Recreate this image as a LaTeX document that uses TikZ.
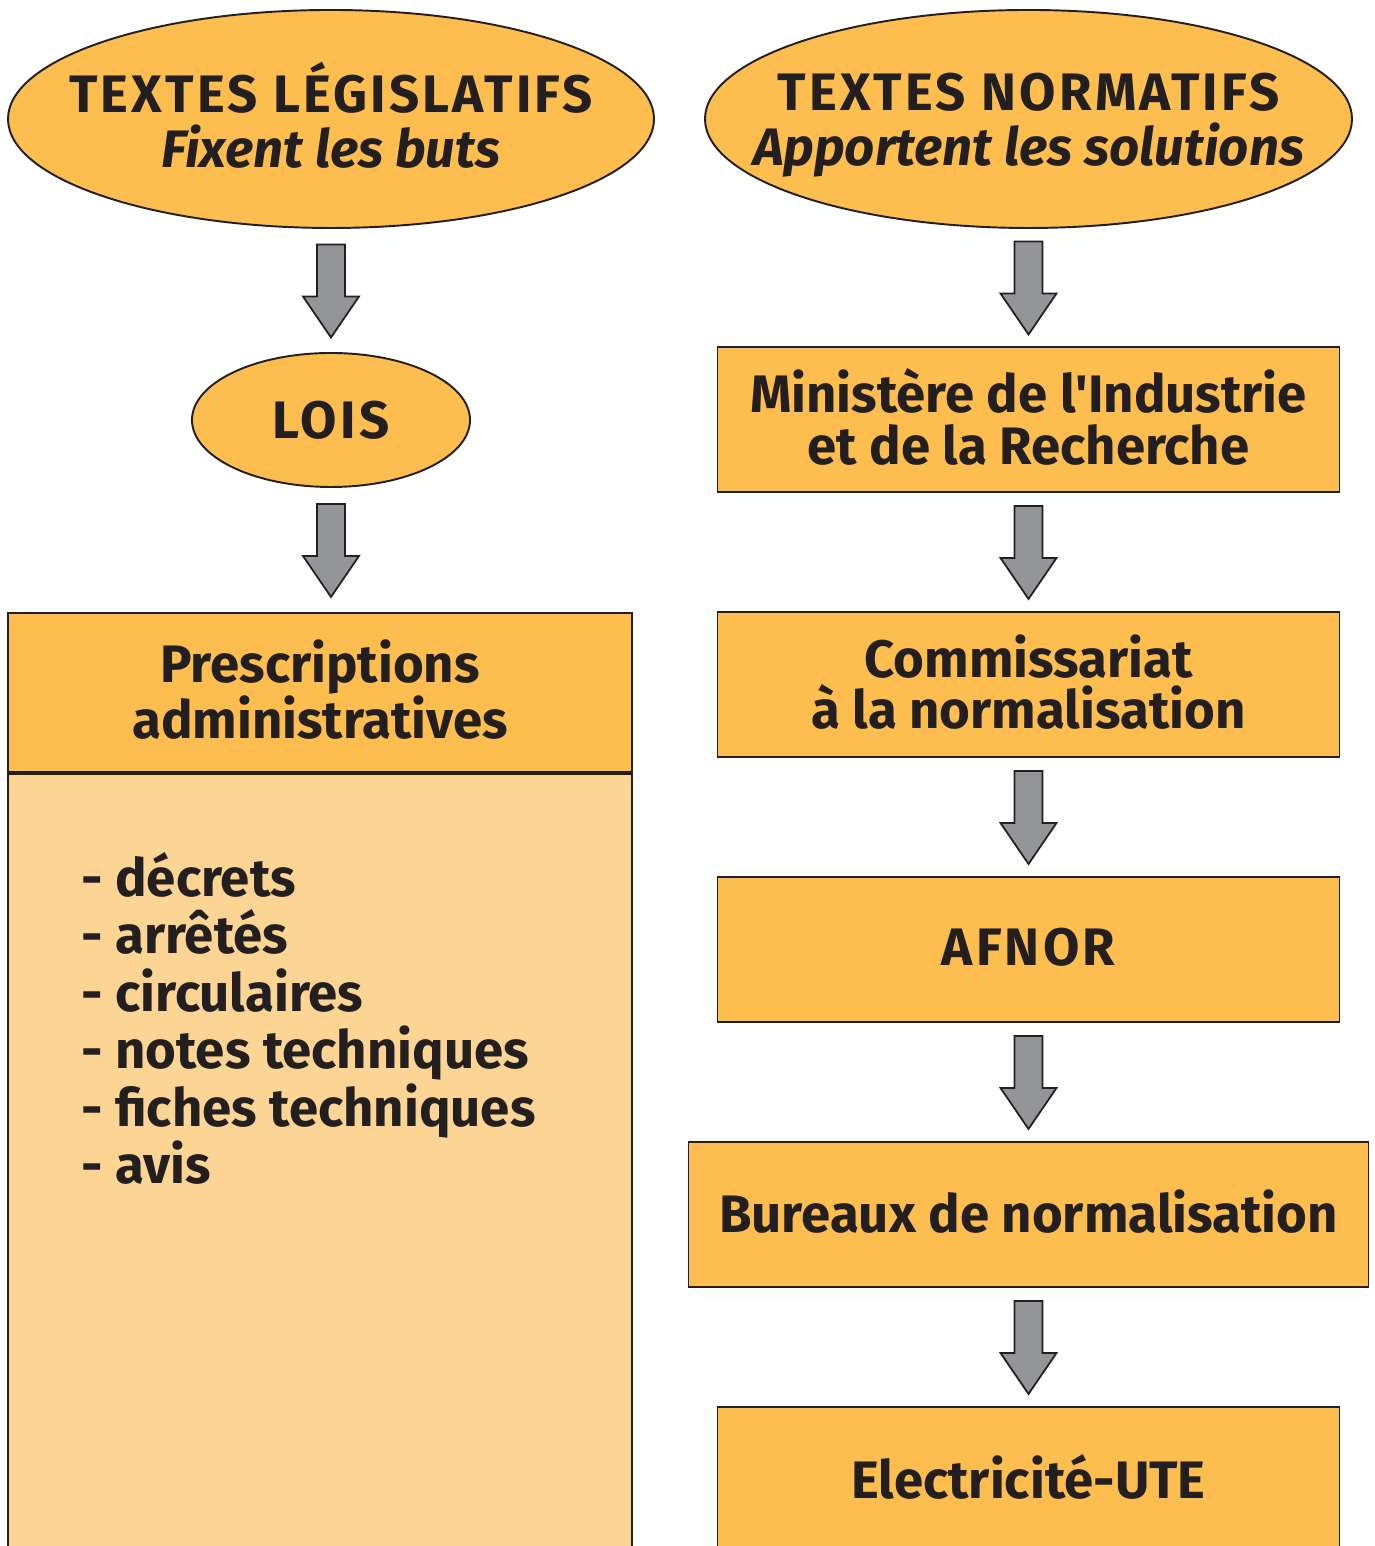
\documentclass[tikz,border=0pt]{standalone}
\usepackage{fontspec}
\setmainfont{Fira Sans}
\newfontfamily\capitales{Fira Sans}[LetterSpace=6]
\usetikzlibrary{shapes,calc}
\definecolor{orangefort}{HTML}{FDBE4F}
\definecolor{orangeclair}{HTML}{FCD594}
\definecolor{grisfleche}{HTML}{939598}
\definecolor{encre}{HTML}{231F20}
\tikzset{
    %Define style for ellipses
    ovale/.style={
           ellipse,
           draw=encre,
           fill=orangefort,
           line width=1.1pt,
           inner sep=0pt,
           text=encre,
           text depth=0pt,
           font=\fontsize{30}{31.5}\selectfont\bfseries,
           align=center},
    %Define style for boxes
    boite/.style={
           rectangle,
           draw=encre,
           fill=orangefort,
           line width=1.1pt,
           minimum width=12.44cm,
           minimum height=2.9cm,
           text=encre,
           text depth=0.12cm,
           font=\fontsize{30}{29.3}\selectfont\bfseries,
           align=center},
    % Define arrow style
    fleche/.style={
           draw=encre,
           fill=grisfleche,
           line width=1pt,
           line join=miter}
}

\begin{document}
\begin{tikzpicture}[node distance=5.3cm]
 \path [use as bounding box, clip] (0,0) rectangle (27.48,30.92);

 % Textes legislatifs
 \node [ovale, text depth=0.16cm, inner xsep=-2.5cm, minimum width=12.92cm,
   minimum height=4.36cm] (legis)
   at (6.62,28.54) {{\capitales TEXTES LÉGISLATIFS}\\\textit{Fixent les buts}};
 \node [ovale, below of=legis, node distance=6.02cm, minimum width=5.56cm,
   minimum height=2.68cm] (lois) {\capitales LOIS};
 \node [boite, below of=lois, node distance=5.45cm, xshift=-0.22cm,
   minimum width=12.48cm, minimum height=3.18cm] (prescr) {Prescriptions\\administratives};
 \node [boite, fill=orangeclair, anchor=north, minimum width=12.48cm,
   minimum height=16cm] (corps) at (prescr.south) {};
 \node [anchor=north west, align=left, inner sep=0pt, text=encre,
   font=\fontsize{30}{32.7}\selectfont\bfseries] (liste)
   at ([xshift=1.48cm, yshift=-1.58cm]prescr.south west)
 {- décrets\\- arrêtés\\- circulaires\\- notes techniques\\- fiches techniques\\- avis};

 % Textes normatifs
 \node [ovale, inner xsep=-2.5cm, minimum width=12.94cm, minimum height=4.36cm] (normat)
   at (20.57,28.54) {{\capitales TEXTES NORMATIFS}\\\textit{Apportent les solutions}};
 \node [boite, below of=normat, node distance=6.01cm] (minist)
 {Ministère de l\textquotesingle Industrie\\et de la Recherche};
 \node [boite, below of=minist] (commis) {Commissariat\\à la normalisation};
 \node [boite, below of=commis] (afnor) {\capitales AFNOR};
 \node [boite, below of=afnor, minimum width=13.6cm] (bureaux) {Bureaux de normalisation};
 \node [boite, below of=bureaux] (ute) {Electricité-UTE};

 % fleches
 \foreach \haut/\bas in {legis/lois, lois/prescr, normat/minist, minist/commis,
   commis/afnor, afnor/bureaux, bureaux/ute} {
   \coordinate (milieu) at ($(\haut.south)!0.5!(\bas.north)$);
   \draw [fleche] ($(\haut.south |- milieu)+(-0.28,0.92)$) -- ++(0.56,0) -- ++(0,-1.04)
     -- ++(0.28,0) -- ++(-0.56,-0.82) -- ++(-0.56,0.82) -- ++(0.28,0) -- cycle;
 }
\end{tikzpicture}
\end{document}
